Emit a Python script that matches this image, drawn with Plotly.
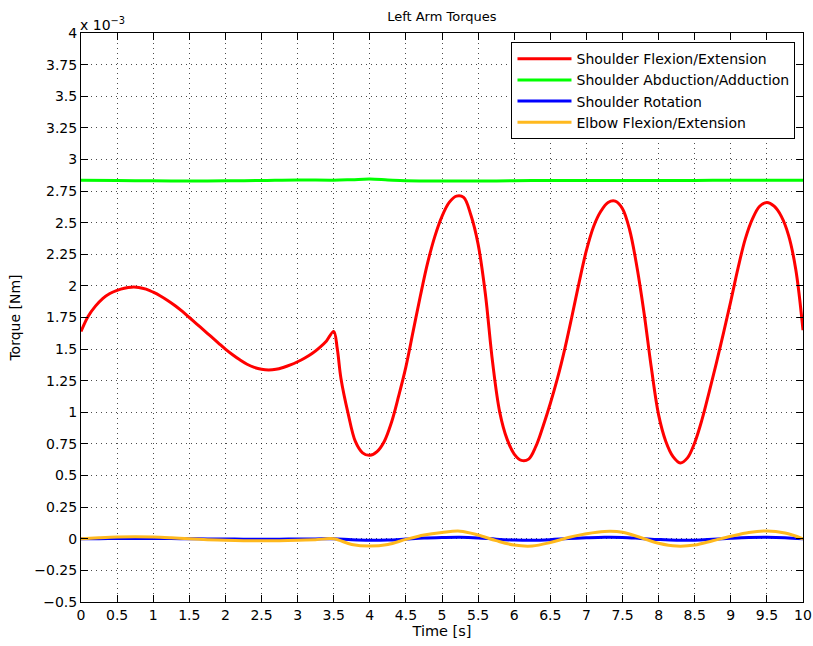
import plotly.graph_objects as go

# ---- data (torques in units of 1e-3 Nm) ----
t_red = [0.0, 0.1, 0.2, 0.3, 0.4, 0.5, 0.6, 0.7, 0.8, 0.9,
         1.0, 1.1, 1.2, 1.3, 1.4, 1.5, 1.6, 1.7, 1.8, 1.9,
         2.0, 2.1, 2.2, 2.3, 2.4, 2.5, 2.6, 2.7, 2.8, 2.9,
         3.0, 3.1, 3.2, 3.3, 3.4, 3.5, 3.55, 3.6, 3.7, 3.8, 3.9,
         4.0, 4.1, 4.2, 4.3, 4.4, 4.5, 4.6, 4.7, 4.8, 4.9,
         5.0, 5.1, 5.2, 5.3, 5.4, 5.5, 5.6, 5.7, 5.8, 5.9,
         6.0, 6.1, 6.2, 6.3, 6.4, 6.5, 6.6, 6.7, 6.8, 6.9,
         7.0, 7.1, 7.2, 7.3, 7.4, 7.5, 7.6, 7.7, 7.8, 7.9,
         8.0, 8.1, 8.2, 8.3, 8.4, 8.5, 8.6, 8.7, 8.8, 8.9,
         9.0, 9.1, 9.2, 9.3, 9.4, 9.5, 9.6, 9.7, 9.8, 9.9, 10.0]
shoulder_flex = [1.64, 1.76, 1.84, 1.90, 1.94, 1.965, 1.982, 1.99, 1.988, 1.975,
                 1.95, 1.92, 1.885, 1.845, 1.80, 1.75, 1.70, 1.65, 1.60, 1.55,
                 1.50, 1.455, 1.415, 1.38, 1.355, 1.34, 1.335, 1.34, 1.355, 1.375,
                 1.40, 1.43, 1.465, 1.51, 1.565, 1.64, 1.50, 1.27, 0.99, 0.77, 0.68,
                 0.66, 0.69, 0.77, 0.92, 1.13, 1.36, 1.64, 1.92, 2.18, 2.39,
                 2.55, 2.66, 2.71, 2.70, 2.56, 2.33, 1.94, 1.40, 1.00, 0.79,
                 0.67, 0.62, 0.63, 0.73, 0.89, 1.07, 1.27, 1.50, 1.76, 2.03,
                 2.28, 2.47, 2.59, 2.66, 2.67, 2.61, 2.44, 2.15, 1.78, 1.35,
                 0.98, 0.77, 0.65, 0.60, 0.64, 0.76, 0.94, 1.16, 1.39, 1.63,
                 1.88, 2.14, 2.37, 2.53, 2.63, 2.66, 2.63, 2.55, 2.40, 2.13, 1.65]

t_green = [0, 0.5, 1, 1.5, 2, 2.5, 3, 3.5, 3.75, 4, 4.25, 4.5, 5, 5.5,
           6, 6.5, 7, 7.5, 8, 8.5, 9, 9.5, 10]
shoulder_abd = [2.835, 2.833, 2.831, 2.830, 2.831, 2.834, 2.838, 2.836, 2.840,
                2.845, 2.838, 2.832, 2.829, 2.829, 2.832, 2.834, 2.834, 2.833,
                2.833, 2.834, 2.835, 2.835, 2.836]

t_small = [0, 0.25, 0.5, 0.75, 1.0, 1.25, 1.5, 1.75, 2.0, 2.25, 2.5, 2.75,
           3.0, 3.25, 3.5, 3.75, 4.0, 4.25, 4.5, 4.75, 5.0, 5.25, 5.5, 5.75,
           6.0, 6.25, 6.5, 6.75, 7.0, 7.25, 7.5, 7.75, 8.0, 8.25, 8.5, 8.75,
           9.0, 9.25, 9.5, 9.75, 10.0]
shoulder_rot = [0, 0.001, 0.002, 0.003, 0.003, 0.002, 0, -0.001, -0.002, -0.003,
                -0.003, -0.003, -0.002, -0.001, 0, -0.008, -0.012, -0.010, -0.002,
                0.006, 0.010, 0.012, 0.007, -0.003, -0.010, -0.012, -0.007, 0.002,
                0.008, 0.012, 0.011, 0.003, -0.006, -0.012, -0.011, -0.004, 0.004,
                0.010, 0.012, 0.009, 0.0]
elbow_flex = [0, 0.008, 0.014, 0.016, 0.014, 0.008, 0.0, -0.007, -0.012, -0.015,
              -0.016, -0.015, -0.012, -0.007, 0.0, -0.045, -0.058, -0.045, -0.005,
              0.030, 0.050, 0.060, 0.030, -0.015, -0.050, -0.057, -0.030, 0.010,
              0.040, 0.058, 0.052, 0.010, -0.035, -0.058, -0.050, -0.015, 0.020,
              0.050, 0.062, 0.045, 0.0]

x_ticks = [0, 0.5, 1, 1.5, 2, 2.5, 3, 3.5, 4, 4.5, 5, 5.5, 6, 6.5, 7, 7.5, 8,
           8.5, 9, 9.5, 10]
x_ticklabels = ["0", "0.5", "1", "1.5", "2", "2.5", "3", "3.5", "4", "4.5", "5",
                "5.5", "6", "6.5", "7", "7.5", "8", "8.5", "9", "9.5", "10"]
y_ticks = [-0.5, -0.25, 0, 0.25, 0.5, 0.75, 1, 1.25, 1.5, 1.75, 2, 2.25, 2.5,
           2.75, 3, 3.25, 3.5, 3.75, 4]
y_ticklabels = ["\u22120.5", "\u22120.25", "0", "0.25", "0.5", "0.75", "1", "1.25",
                "1.5", "1.75", "2", "2.25", "2.5", "2.75", "3", "3.25", "3.5",
                "3.75", "4"]

FONT = "DejaVu Sans, Liberation Sans, sans-serif"

fig = go.Figure()
series = [
    (t_red, shoulder_flex, "Shoulder Flexion/Extension", "rgb(255,0,0)"),
    (t_green, shoulder_abd, "Shoulder Abduction/Adduction", "rgb(0,255,0)"),
    (t_small, shoulder_rot, "Shoulder Rotation", "rgb(0,0,255)"),
    (t_small, elbow_flex, "Elbow Flexion/Extension", "rgb(255,185,30)"),
]
for tx, ty, name, col in series:
    fig.add_trace(go.Scatter(x=tx, y=ty, name=name, mode="lines",
                             line=dict(color=col, width=3, shape="spline", smoothing=1.0)))

axis_common = dict(
    showline=True, linecolor="black", linewidth=1, mirror="ticks",
    ticks="inside", ticklen=7, tickcolor="black", tickwidth=1,
    showgrid=True, gridcolor="rgba(0,0,0,0.7)", gridwidth=1, griddash="1px,4px",
    zeroline=False, automargin=False,
    tickfont=dict(family=FONT, size=14, color="black"),
)

fig.update_layout(
    template="none",
    width=813, height=646,
    margin=dict(l=81, r=10, t=33, b=44, autoexpand=False),
    paper_bgcolor="white", plot_bgcolor="white",
    font=dict(family=FONT, color="black"),
    title=dict(text="Left Arm Torques", x=0.5435, xanchor="center", y=0.975,
               yanchor="middle", font=dict(size=13, family=FONT, color="black")),
    xaxis=dict(range=[0, 10], tickvals=x_ticks, ticktext=x_ticklabels,
               title=dict(text="Time [s]", standoff=2, font=dict(size=14.5, family=FONT)),
               **axis_common),
    yaxis=dict(range=[-0.5, 4], tickvals=y_ticks, ticktext=y_ticklabels,
               title=dict(text="Torque [Nm]", standoff=10, font=dict(size=14, family=FONT)),
               **axis_common),
    legend=dict(x=0.9896, y=0.984, xanchor="right", yanchor="top",
                bgcolor="white", bordercolor="black", borderwidth=1,
                font=dict(size=14, family=FONT, color="black"),
                tracegroupgap=0, itemwidth=54),
    showlegend=True,
)

fig.add_annotation(text="x 10<sup>\u22123</sup>", xref="paper", yref="paper",
                   x=0, y=1, xanchor="left", yanchor="bottom", showarrow=False,
                   font=dict(size=14, family=FONT, color="black"), xshift=-3, yshift=-2)

fig.write_html("out.html")
